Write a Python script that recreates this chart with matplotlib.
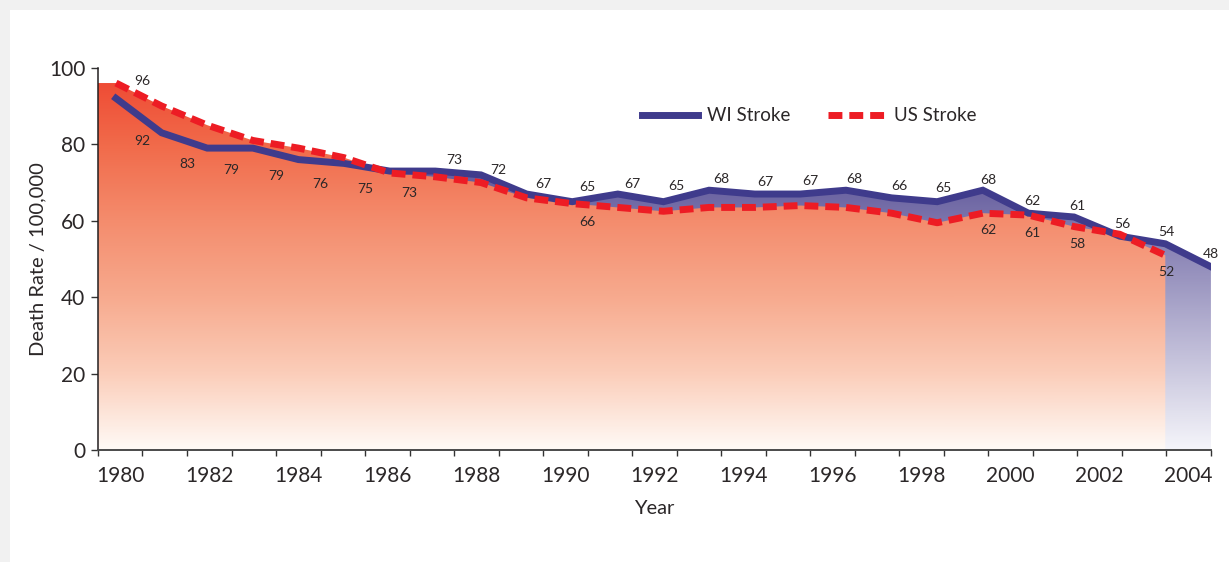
import numpy as np
import matplotlib
matplotlib.use('Agg')
import matplotlib.pyplot as plt
from matplotlib.colors import LinearSegmentedColormap
from matplotlib.patches import Rectangle

# data
years = list(range(1980, 2005))
wi_stroke = [92, 83, 79, 79, 76, 75, 73, 73, 72, 67, 65, 67, 65, 68, 67, 67, 68, 66, 65, 68, 62, 61, 56, 54, 48]
us_years = list(range(1980, 2004))
us_stroke = [96, 90, 85, 81, 79, 76.5, 72.5, 71.5, 70, 66, 64.5, 63.5, 62.5, 63.5, 63.5, 64, 63.5, 62, 59.5, 62, 61.5, 58.5, 56.5, 51]
us_label_years = [1980, 1990, 1999, 2000, 2001, 2003]
us_label_text = ['96', '66', '62', '61', '58', '52']
year_labels = list(range(1980, 2005, 2))
y_ticks = [0, 20, 40, 60, 80, 100]

plt.rcParams['font.family'] = ['Lato', 'DejaVu Sans']
TXT = '#2b2728'

fig = plt.figure(figsize=(12.29, 5.62), dpi=100)
# grey card edge at top / left
fig.patches.append(Rectangle((0, 0), 1, 1, transform=fig.transFigure,
                             facecolor='#f1f1f1', edgecolor='none', zorder=-10))
fig.patches.append(Rectangle((10 / 1229, 0), 1, (562 - 10) / 562, transform=fig.transFigure,
                             facecolor='white', edgecolor='none', zorder=-9))

ax = fig.add_axes([0.0797, 0.1984, 0.9056, 0.6811])
ax.set_facecolor('none')

x0 = years[0] - 0.395
x1 = years[-1]


def gradient_area(xs, ys, colors, v_top, z):
    poly = ax.fill_between(xs, ys, 0, facecolor='none', edgecolor='none')
    cmap = LinearSegmentedColormap.from_list('g', colors)
    vals = np.linspace(100, 0, 400).reshape(-1, 1)
    im = ax.imshow(vals, cmap=cmap, vmin=0, vmax=v_top, extent=(x0, x1, 0, 100),
                   aspect='auto', origin='upper', zorder=z, interpolation='bilinear')
    im.set_clip_path(poly.get_paths()[0], ax.transData)


# WI area (purple) behind, US area (red) in front
gradient_area(years, wi_stroke, ['#f5f5fa', '#675f9f'], 70, 1)
gradient_area([x0] + us_years, [us_stroke[0]] + us_stroke,
              ['#fffaf6', '#fbcdb9', '#f7aa8e', '#f48c6d', '#f16a4a', '#ee4530'], 100, 2)

ax.plot(years, wi_stroke, color='#3f3b8c', lw=5, solid_joinstyle='miter', zorder=4, label='WI Stroke')
ax.plot(us_years, us_stroke, color='#ed1c24', lw=5, ls=(0, (2.0, 1.0)), dash_capstyle='butt',
        zorder=5, label='US Stroke')

# value labels sit on the band edges
edges = np.linspace(x0, x1, 26)
label_x = edges[1:]
for i, (yr, v) in enumerate(zip(years, wi_stroke)):
    lx = label_x[i]
    ly = np.interp(lx, years, wi_stroke)
    dy = -16 if yr <= 1986 else 9
    ax.annotate(f'{v:g}', (lx, ly), xytext=(0, dy), textcoords='offset points',
                ha='center', va='center', fontsize=10, color=TXT, zorder=6)
for yr, txt in zip(us_label_years, us_label_text):
    lx = label_x[years.index(yr)]
    ly = np.interp(lx, us_years, us_stroke)
    dy = 11 if yr == 1980 else -12
    ax.annotate(txt, (lx, ly), xytext=(0, dy), textcoords='offset points',
                ha='center', va='center', fontsize=10, color=TXT, zorder=6)

ax.set_xlim(x0, x1)
ax.set_ylim(0, 100)

ax.set_xticks(edges)
ax.set_xticklabels([])
centers = (edges[:-1] + edges[1:]) / 2
ax.set_xticks(centers[::2], minor=True)
ax.set_xticklabels([str(y) for y in year_labels], minor=True)
ax.tick_params(axis='x', which='major', length=4, width=1, color='#333333', direction='out')
ax.tick_params(axis='x', which='minor', length=0, pad=11, labelsize=15, labelcolor=TXT)
ax.set_yticks(y_ticks)
ax.tick_params(axis='y', length=5, width=1, color='#333333', pad=4, labelsize=15, labelcolor=TXT)

for s in ['top', 'right']:
    ax.spines[s].set_visible(False)
ax.spines['left'].set_color('#231f20')
ax.spines['left'].set_linewidth(1.1)
ax.spines['bottom'].set_color('#4a4a4a')
ax.spines['bottom'].set_linewidth(1.4)
ax.spines['left'].set_zorder(7)
ax.spines['bottom'].set_zorder(7)

ax.set_xlabel('Year', fontsize=14.5, color=TXT, labelpad=10)
ax.set_ylabel('Death Rate / 100,000', fontsize=14.5, color=TXT, labelpad=2)

ax.legend(loc='center left', bbox_to_anchor=(0.48, 0.874), ncol=2, frameon=False,
          fontsize=13.5, handlelength=3.0, handletextpad=0.5, columnspacing=2.0,
          borderpad=0, labelcolor=TXT)

plt.savefig('out.png', dpi=100)
